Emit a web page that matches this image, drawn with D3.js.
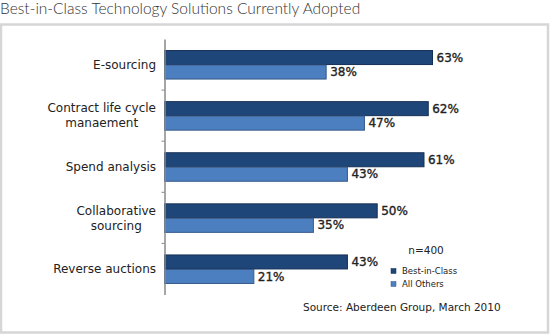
<!DOCTYPE html>
<html>
<head>
<meta charset="utf-8">
<script src="https://cdn.jsdelivr.net/npm/d3@7"></script>
<style>
  body { margin: 0; background: #fff; }
  text { font-family: "DejaVu Sans", sans-serif; fill: #222; }
  .title { font-family: "Lato", sans-serif; font-weight: 300; fill: #333; }
</style>
</head>
<body>
<svg width="550" height="336"></svg>
<script>
const categories = [
  ['E-sourcing'],
  ['Contract life cycle', 'manaement'],
  ['Spend analysis'],
  ['Collaborative', 'sourcing'],
  ['Reverse auctions']
];
const seriesNames = ['Best-in-Class', 'All Others'];
const bestInClass = [63, 62, 61, 50, 43];
const allOthers = [38, 47, 43, 35, 21];

const svg = d3.select('svg');

const colors = { 'Best-in-Class': '#1f4679', 'All Others': '#4c7fbf' };
const strokes = { 'Best-in-Class': '#142f55', 'All Others': '#36598a' };

const data = categories.map((lines, i) => ({
  key: lines.join(' '),
  lines,
  values: [
    { series: seriesNames[0], value: bestInClass[i] },
    { series: seriesNames[1], value: allOthers[i] }
  ]
}));

// frame round the plot
svg.append('rect')
  .attr('x', 1).attr('y', 24.5)
  .attr('width', 547).attr('height', 308)
  .attr('fill', '#fff')
  .attr('stroke', '#d6d6d6')
  .attr('stroke-width', 2.5);

svg.append('text')
  .attr('class', 'title')
  .attr('x', 0).attr('y', 14)
  .attr('font-size', 15.5)
  .text('Best-in-Class Technology Solutions Currently Adopted');

const axisX = 164.5;

const xScale = d3.scaleLinear()
  .domain([0, 63])
  .range([axisX, 432.5]);

const yOuter = d3.scaleBand()
  .domain(data.map(d => d.key))
  .range([39, 294.5]);

const pairHeight = 29;
const yInner = d3.scaleBand()
  .domain(seriesNames)
  .range([0, pairHeight]);

const g = svg.append('g');

const groups = g.selectAll('g.cat')
  .data(data)
  .enter()
  .append('g')
  .attr('class', 'cat')
  .attr('transform', d => `translate(0,${yOuter(d.key) + (yOuter.bandwidth() - pairHeight) / 2})`);

groups.selectAll('rect')
  .data(d => d.values)
  .enter()
  .append('rect')
  .attr('x', axisX)
  .attr('y', d => yInner(d.series) + 0.5)
  .attr('width', d => xScale(d.value) - axisX)
  .attr('height', yInner.bandwidth() - 0.5)
  .attr('fill', d => colors[d.series])
  .attr('stroke', d => strokes[d.series])
  .attr('stroke-width', 1);

groups.selectAll('text.val')
  .data(d => d.values)
  .enter()
  .append('text')
  .attr('class', 'val')
  .attr('x', d => xScale(d.value) + 4)
  .attr('y', d => yInner(d.series) + yInner.bandwidth() / 2)
  .attr('dy', '0.36em')
  .attr('font-size', 12)
  .attr('fill', '#222')
  .attr('stroke', '#222')
  .attr('stroke-width', 0.35)
  .text(d => d.value + '%');

// category axis with ticks between the groups
const yAxis = d3.axisLeft(yOuter).tickSize(0).tickFormat('');
const axisG = g.append('g')
  .attr('transform', `translate(${axisX},0)`)
  .call(yAxis);
axisG.select('.domain').attr('stroke', '#888').attr('stroke-width', 1.5);

axisG.selectAll('line.sep')
  .data(data.slice(1))
  .enter()
  .append('line')
  .attr('class', 'sep')
  .attr('x1', -3).attr('x2', 0)
  .attr('y1', d => yOuter(d.key))
  .attr('y2', d => yOuter(d.key))
  .attr('stroke', '#888');

// category labels: multi-line blocks, lines centred, block right-aligned
const labelRight = 156;
const lineHeight = 15;
groups.each(function(d) {
  const grp = d3.select(this);
  const txt = grp.append('text')
    .attr('font-size', 12)
    .attr('text-anchor', 'middle');
  d.lines.forEach((line, i) => {
    txt.append('tspan')
      .attr('x', 0)
      .attr('y', pairHeight / 2 + (i - (d.lines.length - 1) / 2) * lineHeight)
      .attr('dy', '0.36em')
      .text(line);
  });
  const w = d3.max(txt.selectAll('tspan').nodes(), n => n.getComputedTextLength());
  txt.selectAll('tspan').attr('x', labelRight - w / 2);
});

// sample size and legend
svg.append('text')
  .attr('x', 426).attr('y', 250)
  .attr('dy', '0.36em')
  .attr('font-size', 10.5)
  .attr('text-anchor', 'middle')
  .text('n=400');

const legend = svg.append('g').attr('transform', 'translate(391,271)');
const legendItem = legend.selectAll('g')
  .data(seriesNames)
  .enter()
  .append('g')
  .attr('transform', (d, i) => `translate(0,${i * 13})`);

legendItem.append('rect')
  .attr('x', 0).attr('y', -2.5)
  .attr('width', 5).attr('height', 5)
  .attr('fill', d => colors[d])
  .attr('stroke', d => strokes[d])
  .attr('stroke-width', 0.5);

legendItem.append('text')
  .attr('x', 11).attr('y', 0)
  .attr('dy', '0.35em')
  .attr('font-size', 8.5)
  .text(d => d);

svg.append('text')
  .attr('x', 303).attr('y', 307)
  .attr('dy', '0.36em')
  .attr('font-size', 10.5)
  .text('Source: Aberdeen Group, March 2010');
</script>
</body>
</html>
